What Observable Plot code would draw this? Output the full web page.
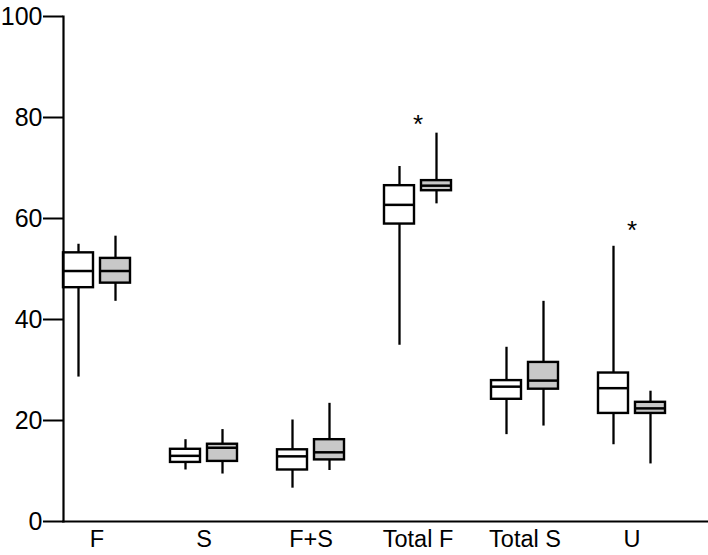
<!DOCTYPE html>
<html>
<head>
<meta charset="utf-8">
<script src="https://cdn.jsdelivr.net/npm/d3@7"></script>
<script src="https://cdn.jsdelivr.net/npm/@observablehq/plot@0.6"></script>
<style>
  html, body { margin: 0; padding: 0; background: white; }
</style>
</head>
<body>
<div id="chart"></div>
<script>
// Categories along x
const categories = ["F", "S", "F+S", "Total F", "Total S", "U"];
const yTicks = [0, 20, 40, 60, 80, 100];

// Group 1 (white boxes)
const g1Low    = [28.6, 10.2,  6.6, 34.9, 17.2, 15.2];
const g1Q1     = [46.3, 11.7, 10.2, 58.9, 24.2, 21.4];
const g1Median = [49.6, 13.0, 12.9, 62.7, 26.7, 26.4];
const g1Q3     = [53.2, 14.3, 14.2, 66.5, 27.9, 29.4];
const g1High   = [54.9, 16.2, 20.1, 70.3, 34.5, 54.5];

// Group 2 (grey boxes)
const g2Low    = [43.6,  9.4, 10.1, 62.9, 18.9, 11.4];
const g2Q1     = [47.2, 11.9, 12.2, 65.5, 26.2, 21.4];
const g2Median = [49.6, 14.6, 13.7, 66.5, 27.9, 22.4];
const g2Q3     = [52.1, 15.3, 16.2, 67.5, 31.5, 23.6];
const g2High   = [56.5, 18.2, 23.4, 76.9, 43.6, 25.8];

// Significance markers
const starCategories = ["Total F", "U"];
const starValues = [78.6, 57.6];

const build = (low, q1, med, q3, high) =>
  categories.map((c, i) => ({category: c, low: low[i], q1: q1[i], median: med[i], q3: q3[i], high: high[i]}));
const g1 = build(g1Low, g1Q1, g1Median, g1Q3, g1High);
const g2 = build(g2Low, g2Q1, g2Median, g2Q3, g2High);
const stars = starCategories.map((c, i) => ({category: c, value: starValues[i]}));

const boxW = 37; // inset that leaves a 30px box on one side of the band

const chart = Plot.plot({
  width: 708,
  height: 555,
  marginLeft: 63,
  marginRight: 0,
  marginTop: 16,
  marginBottom: 34,
  style: {fontFamily: "'Liberation Sans', Arial, sans-serif", fontSize: "23px", color: "black", background: "white"},
  x: {domain: categories, paddingInner: 0.374, paddingOuter: 0.201, align: 0, label: null},
  y: {domain: [0, 100], label: null},
  marks: [
    Plot.axisY(yTicks, {tickSize: 20, tickPadding: 1, fontSize: 25, strokeWidth: 2, label: null}),
    Plot.axisX({tickSize: 0, tickPadding: 9, fontSize: 23.5, label: null}),
    // whiskers
    Plot.ruleX(g1, {x: "category", y1: "low", y2: "high", dx: -18.5, stroke: "black", strokeWidth: 2.3}),
    Plot.ruleX(g2, {x: "category", y1: "low", y2: "high", dx: 18.5, stroke: "black", strokeWidth: 2.3}),
    // boxes
    Plot.barY(g1, {x: "category", y1: "q1", y2: "q3", insetRight: boxW, fill: "white", stroke: "black", strokeWidth: 2.4}),
    Plot.barY(g2, {x: "category", y1: "q1", y2: "q3", insetLeft: boxW, fill: "#c8c8c8", stroke: "black", strokeWidth: 2.4}),
    // medians
    Plot.tickY(g1, {x: "category", y: "median", insetRight: boxW, stroke: "black", strokeWidth: 2.5}),
    Plot.tickY(g2, {x: "category", y: "median", insetLeft: boxW, stroke: "black", strokeWidth: 2.5}),
    // significance
    Plot.text(stars, {x: "category", y: "value", text: () => "*", fontSize: 26, fill: "black"}),
    // axis lines
    Plot.frame({anchor: "left", strokeWidth: 2.2}),
    Plot.frame({anchor: "bottom", strokeWidth: 2.2})
  ]
});
document.getElementById("chart").appendChild(chart);
</script>
</body>
</html>
